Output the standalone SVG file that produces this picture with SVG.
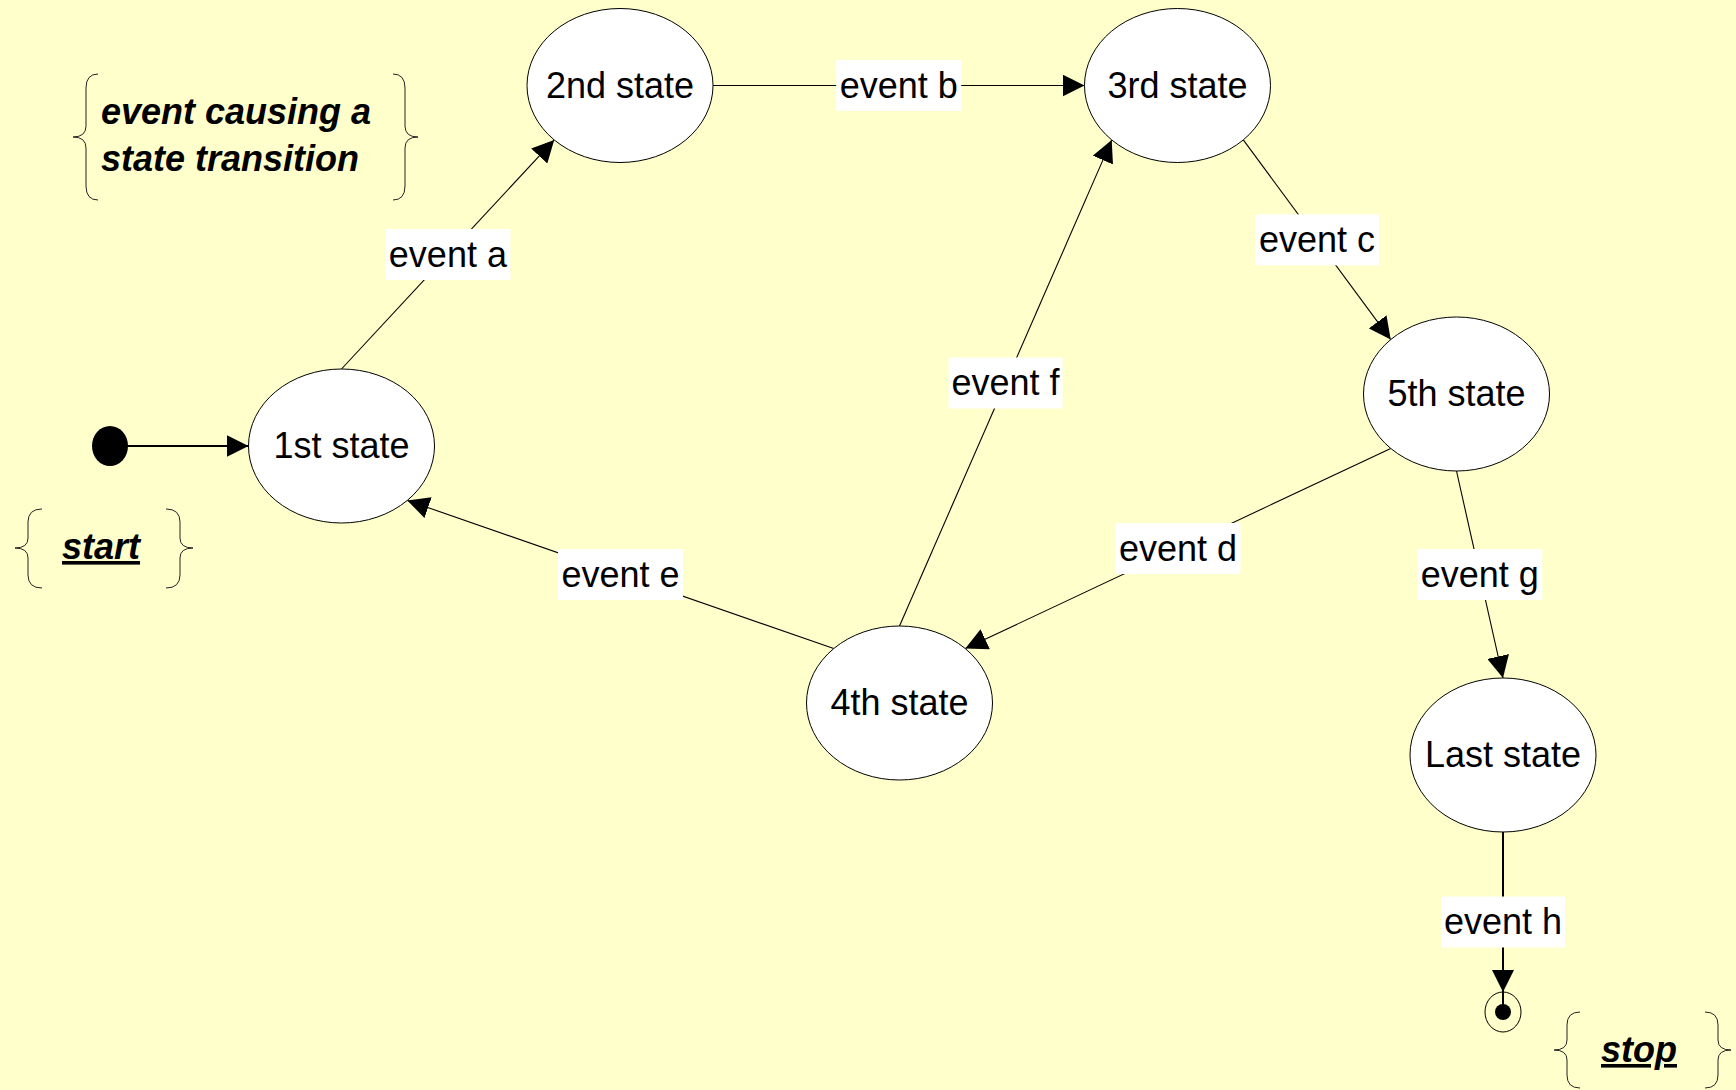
<svg xmlns="http://www.w3.org/2000/svg" width="1736" height="1090" viewBox="0 0 1736 1090">
<style>
.bg{fill:#FFFFCC}
.st{fill:#FFFFFF;stroke:#000;stroke-width:1}
.tx{font-family:"Liberation Sans",Arial,sans-serif;font-size:36px;fill:#000;text-anchor:middle}
.note{font-family:"Liberation Sans",Arial,sans-serif;font-size:36px;font-weight:bold;font-style:italic;fill:#000}
.ul{text-decoration:underline;text-decoration-skip-ink:none}
.br{fill:none;stroke:#222;stroke-width:1}
.ln{fill:none;stroke:#000;stroke-width:1.1}
.lnb{fill:none;stroke:#000;stroke-width:2}
.lb{fill:#FFFFFF}
</style>
<defs>
<marker id="arr" markerUnits="userSpaceOnUse" markerWidth="22" markerHeight="22" viewBox="0 0 22 22" refX="22" refY="11" orient="auto">
<path d="M0,0 L22,11 L0,22 z" fill="#000"/>
</marker>
</defs>
<rect class="bg" x="0" y="0" width="1736" height="1090"/>

<g id="connectors">
<g id="e-start"><line class="lnb" x1="110" y1="446" x2="248.5" y2="446" marker-end="url(#arr)"/></g>
<g id="e-a">
<line class="ln" x1="341.5" y1="369" x2="554.2" y2="139.9" marker-end="url(#arr)"/>
<rect class="lb" x="385.4" y="229" width="125" height="51"/>
<text class="tx" x="447.9" y="266.5">event a</text>
</g>
<g id="e-b">
<line class="ln" x1="713" y1="85.5" x2="1084.5" y2="85.5" marker-end="url(#arr)"/>
<rect class="lb" x="836.2" y="60" width="125" height="51"/>
<text class="tx" x="898.7" y="97.5">event b</text>
</g>
<g id="e-c">
<line class="ln" x1="1243.3" y1="139.9" x2="1390.7" y2="339.6" marker-end="url(#arr)"/>
<rect class="lb" x="1255" y="214.3" width="124" height="51"/>
<text class="tx" x="1317" y="251.8">event c</text>
</g>
<g id="e-d">
<line class="ln" x1="1390.7" y1="448.4" x2="965.3" y2="648.6" marker-end="url(#arr)"/>
<rect class="lb" x="1115.5" y="523" width="125" height="51"/>
<text class="tx" x="1178" y="560.5">event d</text>
</g>
<g id="e-e">
<line class="ln" x1="833.7" y1="648.6" x2="407.3" y2="500.4" marker-end="url(#arr)"/>
<rect class="lb" x="558" y="549" width="125" height="51"/>
<text class="tx" x="620.5" y="586.5">event e</text>
</g>
<g id="e-f">
<line class="ln" x1="899.5" y1="626" x2="1111.7" y2="139.9" marker-end="url(#arr)"/>
<rect class="lb" x="948.6" y="357.5" width="114" height="51"/>
<text class="tx" x="1005.6" y="395">event f</text>
</g>
<g id="e-g">
<line class="ln" x1="1456.5" y1="471" x2="1503" y2="678" marker-end="url(#arr)"/>
<rect class="lb" x="1417.3" y="549" width="125" height="51"/>
<text class="tx" x="1479.8" y="586.5">event g</text>
</g>
<g id="e-h">
<path class="lnb" d="M1503,832 L1503,992 L1503,1012" marker-mid="url(#arr)"/>
<rect class="lb" x="1441" y="896.5" width="124" height="51"/>
<text class="tx" x="1503" y="934">event h</text>
</g>
</g>

<g id="initial"><ellipse cx="110" cy="446" rx="18" ry="20" fill="#000"/></g>
<g id="state1"><ellipse class="st" cx="341.5" cy="446" rx="93" ry="77"/><text class="tx" x="341.5" y="458">1st state</text></g>
<g id="state2"><ellipse class="st" cx="620" cy="85.5" rx="93" ry="77"/><text class="tx" x="620" y="97.5">2nd state</text></g>
<g id="state3"><ellipse class="st" cx="1177.5" cy="85.5" rx="93" ry="77"/><text class="tx" x="1177.5" y="97.5">3rd state</text></g>
<g id="state5"><ellipse class="st" cx="1456.5" cy="394" rx="93" ry="77"/><text class="tx" x="1456.5" y="406">5th state</text></g>
<g id="state4"><ellipse class="st" cx="899.5" cy="703" rx="93" ry="77"/><text class="tx" x="899.5" y="715">4th state</text></g>
<g id="stateLast"><ellipse class="st" cx="1503" cy="755" rx="93" ry="77"/><text class="tx" x="1503" y="767">Last state</text></g>
<g id="final">
<ellipse cx="1503" cy="1012" rx="18" ry="20" fill="none" stroke="#000" stroke-width="1"/>
<ellipse cx="1503" cy="1012" rx="8" ry="8" fill="#000"/>
</g>

<g id="note-event">
<path class="br" d="M98,74 Q86,74 86,88 L86,126 Q86,137 73,137 Q86,137 86,148 L86,186 Q86,200 98,200"/>
<path class="br" d="M393,74 Q405,74 405,88 L405,126 Q405,137 418,137 Q405,137 405,148 L405,186 Q405,200 393,200"/>
<text class="note" x="101" y="124">event causing a</text>
<text class="note" x="101" y="171">state transition</text>
</g>
<g id="note-start">
<path class="br" d="M42,509 Q28,509 28,522 L28,538 Q28,548 15,548 Q28,548 28,558 L28,575 Q28,588 42,588"/>
<path class="br" d="M166,509 Q180,509 180,522 L180,538 Q180,548 193,548 Q180,548 180,558 L180,575 Q180,588 166,588"/>
<text class="note ul" x="62" y="559">start</text>
</g>
<g id="note-stop">
<path class="br" d="M1580,1012 Q1567,1012 1567,1025 L1567,1040 Q1567,1050 1554,1050 Q1567,1050 1567,1060 L1567,1075 Q1567,1088 1580,1088"/>
<path class="br" d="M1705,1012 Q1718,1012 1718,1025 L1718,1040 Q1718,1050 1731,1050 Q1718,1050 1718,1060 L1718,1075 Q1718,1088 1705,1088"/>
<text class="note ul" x="1601" y="1062">stop</text>
</g>
</svg>
